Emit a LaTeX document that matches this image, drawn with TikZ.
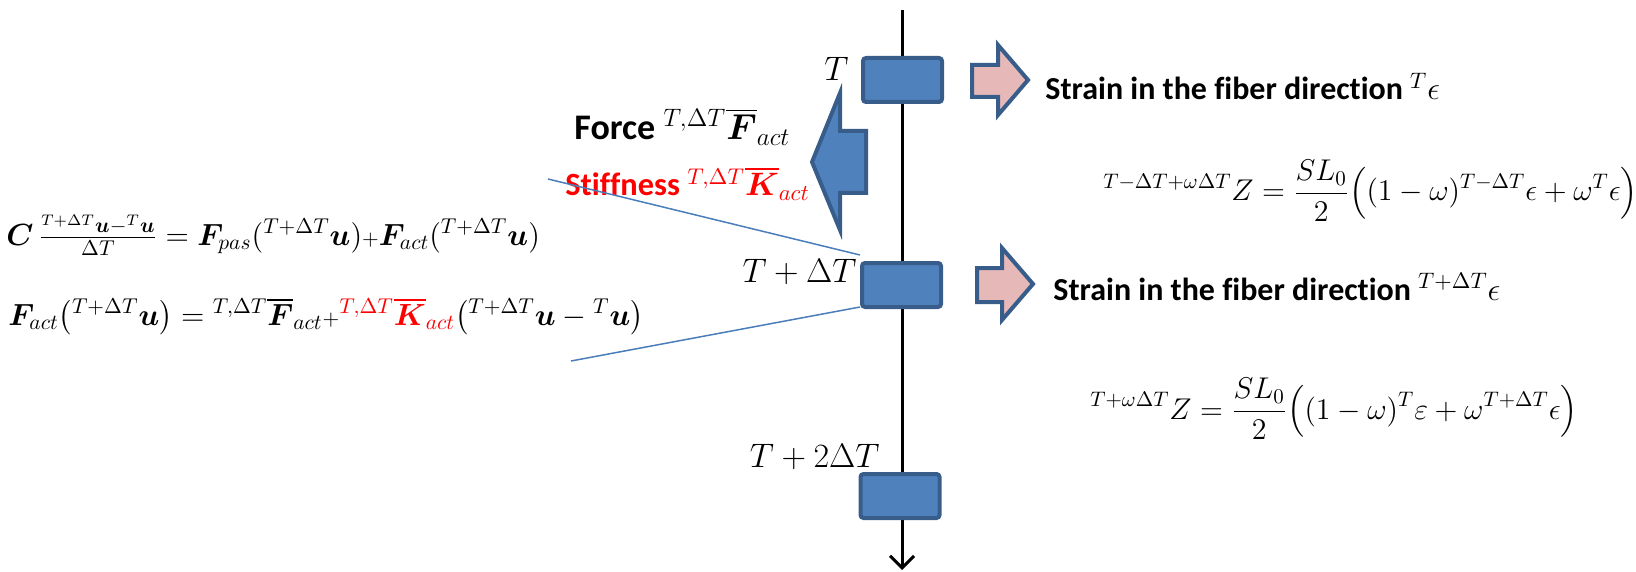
\documentclass[tikz,border=0pt]{standalone}
\usepackage{fix-cm}
\usepackage{amsmath}
\usepackage{bm}
\usepackage{fontspec}
\newfontfamily\calibri[Ligatures=NoCommon]{Carlito}
\usetikzlibrary{arrows.meta}
\definecolor{boxblue}{HTML}{4F81BD}
\definecolor{edgeblue}{HTML}{385D8A}
\definecolor{arrowpink}{HTML}{E6B9B8}
\definecolor{lineblue}{HTML}{4A7EBB}
\tikzset{
  >={Straight Barb[length=6pt,width=12pt]},
  stepbox/.style={rectangle, rounded corners=1.5pt, draw=edgeblue, fill=boxblue,
                  line width=2pt, minimum width=39.5pt, minimum height=22pt, inner sep=0pt},
  tlbl/.style={font=\fontsize{17}{20}\selectfont, anchor=base east, inner sep=0pt},
  head/.style={font=\fontsize{16}{19}\selectfont\calibri\bfseries, anchor=base west, inner sep=0pt},
  eqn/.style={font=\fontsize{15.3}{18}\selectfont, anchor=base west, inner sep=0pt},
  eqr/.style={font=\fontsize{15}{18}\selectfont, anchor=base west, inner sep=0pt},
  fatblue/.style={draw=edgeblue, fill=boxblue, line width=2pt, line join=miter},
  fatpink/.style={draw=edgeblue, fill=arrowpink, line width=2pt, line join=miter},
  link/.style={draw=lineblue, line width=0.75pt},
  axis/.style={->, line width=1.5pt},
}

\begin{document}
\begin{tikzpicture}[x=0.5pt, y=-0.5pt]
  \useasboundingbox (0,0) rectangle (1636,572);
  % time axis
  \coordinate (top) at (902,10);
  \coordinate (bottom) at (902,570);
  \draw[axis] (top) -- (bottom);
  % time steps
  \node[stepbox] (box1) at (902.5,80) {};
  \node[stepbox] (box2) at (901.5,285) {};
  \node[stepbox] (box3) at (900,496) {};
  \node[tlbl] (t1) at (849,81) {$T$};
  \node[tlbl] (t2) at (857,282) {$T+\Delta T$};
  \node[tlbl] (t3) at (880,467) {$T+2\Delta T$};
  % force arrow to the left
  \draw[fatblue] (812,162) -- (840,93) -- (840,131) -- (866,131) -- (866,193)
    -- (840,193) -- (840,230) -- cycle;
  \node[head, font=\fontsize{18}{21}\selectfont\calibri\bfseries] (force) at (574,140)
    {Force $^{T,\Delta T}\overline{\bm{F}}_{act}$};
  \node[head, text=red, font=\fontsize{16.2}{20}\selectfont\calibri\bfseries] (stiff) at (565,196)
    {Stiffness $^{T,\Delta T}\overline{\bm{K}}_{act}$};
  % strain arrows to the right
  \draw[fatpink] (972,65) -- (998,65) -- (998,45) -- (1028,80) -- (998,115)
    -- (998,97) -- (972,97) -- cycle;
  \draw[fatpink] (977,268) -- (1002,268) -- (1002,248) -- (1033,284) -- (1002,320)
    -- (1002,302) -- (977,302) -- cycle;
  \node[head] (strain1) at (1045,100) {Strain in the fiber direction ${}^{T}\epsilon$};
  \node[head] (strain2) at (1053,300) {Strain in the fiber direction ${}^{T+\Delta T}\epsilon$};
  \node[eqr] (zeq1) at (1103,201)
    {$\displaystyle {}^{T-\Delta T+\omega\Delta T}Z=\frac{SL_0}{2}\Bigl((1-\omega)^{T-\Delta T}\epsilon+\omega^{T}\epsilon\Bigr)$};
  \node[eqr] (zeq2) at (1090,419)
    {$\displaystyle {}^{T+\omega\Delta T}Z=\frac{SL_0}{2}\Bigl((1-\omega)^{T}\varepsilon+\omega^{T+\Delta T}\epsilon\Bigr)$};
  % equations on the left
  \node[eqn] (eqa) at (6,245)
    {$\bm{C}\,\frac{{}^{T+\Delta T}\bm{u}-{}^{T}\bm{u}}{\Delta T}=\bm{F}_{pas}({}^{T+\Delta T}\bm{u}){\scriptstyle+}\bm{F}_{act}({}^{T+\Delta T}\bm{u})$};
  \node[eqn] (eqb) at (8,325)
    {$\bm{F}_{act}\bigl({}^{T+\Delta T}\bm{u}\bigr)={}^{T,\Delta T}\overline{\bm{F}}_{act}{\scriptstyle+}{\color{red}{}^{T,\Delta T}\overline{\bm{K}}_{act}}\bigl({}^{T+\Delta T}\bm{u}-{}^{T}\bm{u}\bigr)$};
  \coordinate (eqtop) at (548,179);
  \coordinate (eqbot) at (571,361);
  \draw[link] (eqtop) -- ([yshift=3pt]box2.north west);
  \draw[link] (eqbot) -- ([yshift=1pt]box2.south west);
\end{tikzpicture}
\end{document}
